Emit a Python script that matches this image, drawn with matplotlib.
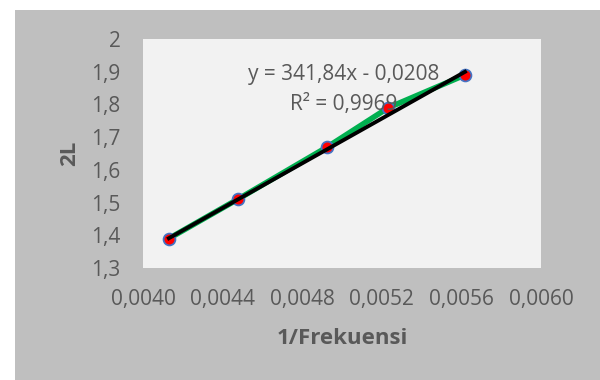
import matplotlib
matplotlib.use("Agg")
import matplotlib.pyplot as plt
import numpy as np
from matplotlib.patches import Rectangle
from matplotlib.ticker import FuncFormatter, MultipleLocator

# data
inv_freq = [0.00413, 0.004476, 0.004926, 0.005233, 0.005618]
two_l = [1.39, 1.51, 1.67, 1.79, 1.89]
slope = 341.84
intercept = -0.0208
eq_text = "y = 341,84x - 0,0208"
r2_text = "R² = 0,9969"
x_label = "1/Frekuensi"
y_label = "2L"

plt.rcParams["font.family"] = ["Open Sans", "DejaVu Sans"]
text_col = "#595959"

fig = plt.figure(figsize=(6, 3.8), dpi=100)
fig.patch.set_facecolor("white")
# grey chart area
fig.patches.append(Rectangle((15 / 600, 0), 1, 1 - 10 / 380,
                             transform=fig.transFigure, facecolor="#BFBFBF",
                             edgecolor="none", zorder=-10))

ax = fig.add_axes([143 / 600, 1 - 268 / 380, 398 / 600, 229 / 380])
ax.set_facecolor("#F2F2F2")

ax.plot(inv_freq, two_l, color="#00B050", lw=4, zorder=2)
ax.plot(inv_freq, two_l, "o", ms=8.5, mfc="#FF0000", mec="#4472C4", mew=1.3, zorder=3)

xs = np.array([inv_freq[0], inv_freq[-1]])
ax.plot(xs, slope * xs + intercept, color="black", lw=2.8, zorder=4)

ax.set_xlim(0.0040, 0.0060)
ax.set_ylim(1.3, 2.0)
ax.xaxis.set_major_locator(MultipleLocator(0.0004))
ax.yaxis.set_major_locator(MultipleLocator(0.1))
ax.xaxis.set_major_formatter(FuncFormatter(lambda v, p: f"{v:.4f}".replace(".", ",")))
ax.yaxis.set_major_formatter(
    FuncFormatter(lambda v, p: ("2" if abs(v - 2) < 1e-9 else f"{v:.1f}".replace(".", ","))))
ax.tick_params(length=0, labelsize=15, colors=text_col)
ax.tick_params(axis="y", pad=16)
ax.tick_params(axis="x", pad=15)
for s in ax.spines.values():
    s.set_visible(False)

ax.set_xlabel(x_label, fontsize=16, fontweight="bold", color=text_col, labelpad=13)
ax.set_ylabel(y_label, fontsize=16, fontweight="bold", color=text_col, labelpad=8)

ax.text(0.504, 0.843, eq_text, transform=ax.transAxes, ha="center", va="center",
        fontsize=15, color=text_col, zorder=5)
ax.text(0.504, 0.712, r2_text, transform=ax.transAxes, ha="center", va="center",
        fontsize=15, color=text_col, zorder=5)

fig.savefig("out.png", dpi=100)
